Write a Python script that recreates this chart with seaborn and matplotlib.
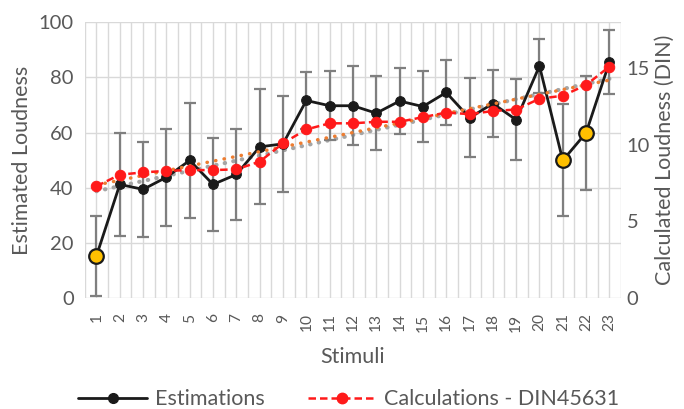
import numpy as np
import pandas as pd
import matplotlib
matplotlib.use("Agg")
import matplotlib.pyplot as plt
import seaborn as sns
from matplotlib.lines import Line2D

# Stimulus numbers
stimuli = list(range(1, 24))

# Mean estimated loudness (left axis) and its standard deviation
estimations = [15.3, 41.2, 39.4, 43.8, 49.9, 41.2, 44.8, 54.8, 55.9, 71.6, 69.7, 69.7,
               67.0, 71.4, 69.4, 74.5, 65.3, 70.5, 64.6, 84.1, 49.9, 59.9, 85.5]
est_sd = [14.5, 18.7, 17.1, 17.5, 20.9, 16.7, 16.6, 20.8, 17.4, 10.3, 12.5, 14.4,
          13.4, 12.0, 12.9, 11.7, 14.3, 12.0, 14.7, 9.7, 20.3, 20.7, 11.5]

# Calculated loudness, DIN 45631 (right axis, sone)
calculations = [7.3, 8.05, 8.2, 8.3, 8.35, 8.35, 8.4, 8.9, 10.1, 11.0, 11.4, 11.4,
                11.5, 11.5, 11.8, 12.1, 12.0, 12.2, 12.3, 13.0, 13.2, 13.9, 15.1]

# Stimuli whose estimates are highlighted
highlighted = [1, 21, 22]

left_ticks = [0, 20, 40, 60, 80, 100]
right_ticks = [0, 5, 10, 15]

df = pd.DataFrame({"stimulus": stimuli, "est": estimations, "sd": est_sd, "calc": calculations})
df["pos"] = np.arange(len(df))

sns.set_theme(style="white")
plt.rcParams["font.family"] = ["Lato", "DejaVu Sans"]
text_col = "#595959"
grid_col = "#d9d9d9"

fig = plt.figure(figsize=(6.84, 4.09), dpi=100)
ax1 = fig.add_axes([0.124, 0.271, 0.784, 0.675])
ax2 = ax1.twinx()

# Linear trends of both series
p_est = np.polyfit(df["pos"], df["est"], 1)
p_calc = np.polyfit(df["pos"], df["calc"], 1)
trend_x = np.array([df["pos"].min(), df["pos"].max()])

ax1.plot(trend_x, np.polyval(p_est, trend_x), color="#a5a5a5", lw=3.0,
         linestyle=(0, (0.1, 2.0)), dash_capstyle="round", zorder=2)

# Error bars of estimations
ax1.errorbar(df["pos"], df["est"], yerr=df["sd"], fmt="none", ecolor="#7f7f7f",
             elinewidth=1.6, capsize=4.3, capthick=1.6, zorder=3)

sns.lineplot(data=df, x="pos", y="est", ax=ax1, color="#1a1a1a", lw=2,
             marker="o", markersize=7, markeredgecolor="#1a1a1a", zorder=4)

hl = df[df["stimulus"].isin(highlighted)]
ax1.plot(hl["pos"], hl["est"], linestyle="none", marker="o", markersize=10.5,
         markerfacecolor="#FFC000", markeredgecolor="#1a1a1a", markeredgewidth=1.6, zorder=5)

# Calculated series on the secondary axis
ax2.plot(trend_x, np.polyval(p_calc, trend_x), color="#ED7D31", lw=2.5,
         linestyle=(0, (0.1, 2.4)), dash_capstyle="round", zorder=2)
sns.lineplot(data=df, x="pos", y="calc", ax=ax2, color="#ff1a1a", lw=1.8,
             linestyle=(0, (3, 1.6)), marker="o", markersize=7.5,
             markeredgecolor="#ff1a1a", zorder=4)

# Axes limits and ticks
ax1.set_xlim(-0.5, len(df) - 0.5)
ax1.set_ylim(0, 100)
ax2.set_ylim(0, 18)
ax1.set_yticks(left_ticks)
ax2.set_yticks(right_ticks)
ax1.set_xticks(df["pos"])
ax1.set_xticklabels([str(s) for s in stimuli], rotation=90)
ax1.set_xticks(np.arange(-0.5, len(df), 1), minor=True)

ax1.grid(True, which="both", axis="x", color=grid_col, lw=1)
ax1.grid(True, which="major", axis="y", color=grid_col, lw=1)
ax1.set_axisbelow(True)
ax2.grid(False)

for ax in (ax1, ax2):
    for s in ax.spines.values():
        s.set_visible(False)
    ax.tick_params(which="both", length=0, colors=text_col)

ax1.tick_params(axis="y", pad=8, labelsize=14.5)
ax2.tick_params(axis="y", pad=4, labelsize=14.5)
ax1.tick_params(axis="x", pad=11, labelsize=11.2)

ax1.set_xlabel("Stimuli", color=text_col, fontsize=15.5)
ax1.set_ylabel("Estimated Loudness", color=text_col, fontsize=15.5)
ax2.set_ylabel("Calculated Loudness (DIN)", color=text_col, fontsize=15.5)
ax1.xaxis.set_label_coords(0.5, -0.214)
ax1.xaxis.label.set_va("center")
ax1.yaxis.set_label_coords(-0.1175, 0.5)
ax1.yaxis.label.set_va("center")
ax2.yaxis.set_label_coords(1.082, 0.5)
ax2.yaxis.label.set_va("center")

handles = [
    Line2D([], [], color="#1a1a1a", lw=2, marker="o", markersize=7),
    Line2D([], [], color="#ff1a1a", lw=1.8, linestyle=(0, (3, 1.6)), marker="o",
           markersize=7.5),
]
fig.legend(handles, ["Estimations", "Calculations - DIN45631"], loc="center",
           bbox_to_anchor=(0.51, 0.024), ncol=2, frameon=False, fontsize=15.5,
           labelcolor=text_col, handlelength=3.2, columnspacing=2.0, handletextpad=0.35)

fig.savefig("out.png", dpi=100)
